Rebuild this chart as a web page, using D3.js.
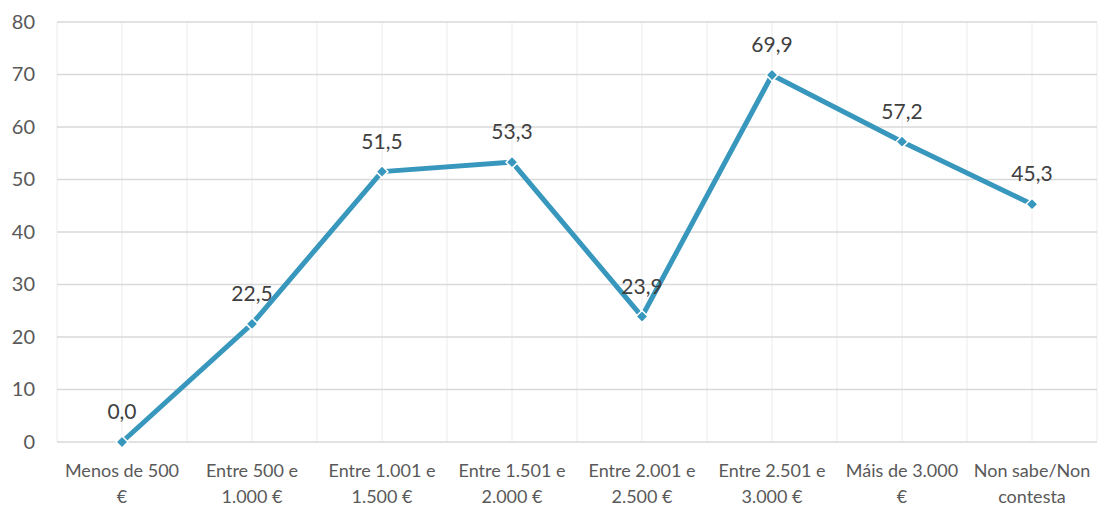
<!DOCTYPE html>
<html>
<head>
<meta charset="utf-8">
<script src="https://cdn.jsdelivr.net/npm/d3@7"></script>
<style>
  body { margin: 0; background: #fff; }
  svg { display: block; }
  text { font-family: Lato, "Noto Sans", sans-serif; }
</style>
</head>
<body>
<script>
var categories = [
  ['Menos de 500', '€'],
  ['Entre 500 e', '1.000 €'],
  ['Entre 1.001 e', '1.500 €'],
  ['Entre 1.501 e', '2.000 €'],
  ['Entre 2.001 e', '2.500 €'],
  ['Entre 2.501 e', '3.000 €'],
  ['Máis de 3.000', '€'],
  ['Non sabe/Non', 'contesta']
]
var values = [0.0, 22.5, 51.5, 53.3, 23.9, 69.9, 57.2, 45.3]
var yTicks = [0, 10, 20, 30, 40, 50, 60, 70, 80]

var width = 1099
var height = 505
var margin = { left: 57, right: 2, top: 22, bottom: 63 }
var innerWidth = width - margin.left - margin.right
var innerHeight = height - margin.top - margin.bottom

var svg = d3.select('body').append('svg').attr('width', width).attr('height', height)
var g = svg.append('g').attr('transform', `translate(${margin.left},${margin.top})`)

var idx = d3.range(categories.length)
var xScale = d3.scaleBand().domain(idx).range([0, innerWidth])
var yScale = d3.scaleLinear().domain([0, 80]).range([innerHeight, 0])
var cx = i => xScale(i) + xScale.bandwidth() / 2

// vertical gridlines, at band edges and centres
var vLines = []
idx.forEach(i => { vLines.push(xScale(i)); vLines.push(cx(i)) })
vLines.push(innerWidth)
g.append('g').selectAll('line').data(vLines).enter().append('line')
  .attr('x1', d => d).attr('x2', d => d).attr('y1', 0).attr('y2', innerHeight)
  .attr('stroke', '#ebebeb').attr('stroke-width', 1)

// horizontal gridlines
g.append('g').selectAll('line').data(yTicks).enter().append('line')
  .attr('x1', 0).attr('x2', innerWidth)
  .attr('y1', d => yScale(d)).attr('y2', d => yScale(d))
  .attr('stroke', '#d9d9d9').attr('stroke-width', 1.3)

// y axis labels
var yAxis = d3.axisLeft(yScale).tickValues(yTicks).tickSize(0).tickPadding(22)
var ya = g.append('g').call(yAxis)
ya.select('.domain').remove()
ya.selectAll('text').attr('font-size', 20).attr('fill', '#595959')
  .attr('font-family', 'Lato, "Noto Sans", sans-serif')

// x axis labels
var xa = g.append('g').attr('transform', `translate(0,${innerHeight})`)
xa.selectAll('text').data(categories).enter().append('text')
  .attr('text-anchor', 'middle')
  .attr('fill', '#595959').attr('font-size', 18)
  .each(function (d, i) {
    var t = d3.select(this)
    d.forEach((s, k) => {
      t.append('tspan').attr('x', cx(i)).attr('y', 35 + k * 26).text(s)
    })
  })

// line
var line = d3.line().x((d, i) => cx(i)).y(d => yScale(d))
g.append('path').datum(values).attr('d', line)
  .attr('fill', 'none').attr('stroke', '#3897bd').attr('stroke-width', 5)
  .attr('stroke-linejoin', 'round')

// markers
g.append('g').selectAll('path').data(values).enter().append('path')
  .attr('d', d3.symbol().type(d3.symbolDiamond2).size(90))
  .attr('transform', (d, i) => `translate(${cx(i)},${yScale(d)})`)
  .attr('fill', '#3897bd').attr('stroke', '#fff').attr('stroke-width', 1.5)

// data labels
g.append('g').selectAll('text').data(values).enter().append('text')
  .attr('x', (d, i) => cx(i)).attr('y', d => yScale(d) - 23)
  .attr('text-anchor', 'middle').attr('font-size', 21).attr('fill', '#404040')
  .text(d => d.toFixed(1).replace('.', ','))
</script>
</body>
</html>
